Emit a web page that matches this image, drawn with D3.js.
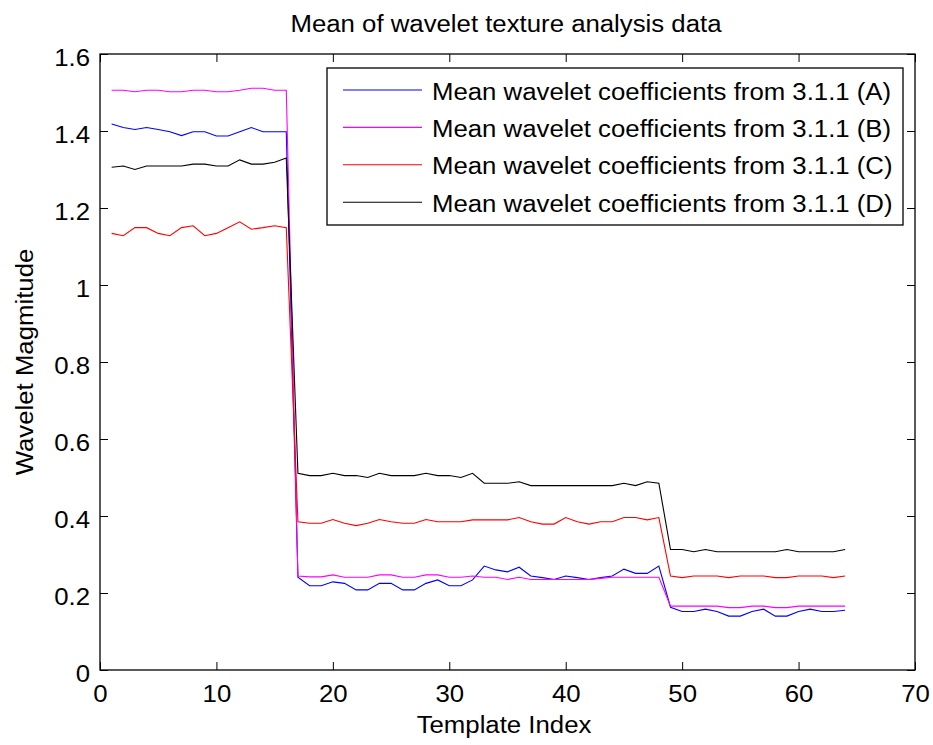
<!DOCTYPE html>
<html>
<head>
<meta charset="utf-8">
<script src="https://cdn.jsdelivr.net/npm/d3@7"></script>
<style>
  html, body { margin: 0; padding: 0; background: #fff; }
  text { font-family: "Liberation Sans", Arial, Helvetica, sans-serif; fill: #000; }
</style>
</head>
<body>
<svg id="chart" width="933" height="745"></svg>
<script>
const templateIndex = d3.range(1, 65);

const seriesA = [1.418,1.409,1.404,1.409,1.404,1.398,1.388,1.398,1.398,1.387,1.387,1.398,1.409,1.398,1.398,1.398,
  0.241,0.219,0.219,0.229,0.225,0.208,0.208,0.225,0.225,0.208,0.208,0.225,0.234,0.219,0.219,0.234,
  0.270,0.260,0.255,0.267,0.244,0.240,0.235,0.244,0.240,0.235,0.240,0.244,0.262,0.251,0.251,0.270,
  0.163,0.152,0.152,0.158,0.152,0.140,0.140,0.152,0.158,0.140,0.140,0.152,0.158,0.152,0.152,0.155];

const seriesB = [1.506,1.506,1.502,1.506,1.506,1.502,1.502,1.506,1.506,1.502,1.502,1.506,1.511,1.511,1.506,1.506,
  0.244,0.242,0.242,0.247,0.241,0.241,0.241,0.247,0.247,0.241,0.241,0.247,0.247,0.241,0.241,0.244,
  0.241,0.241,0.235,0.241,0.235,0.235,0.235,0.235,0.235,0.235,0.238,0.241,0.241,0.241,0.241,0.241,
  0.166,0.166,0.166,0.166,0.166,0.162,0.162,0.166,0.166,0.162,0.162,0.166,0.166,0.166,0.166,0.166];

const seriesC = [1.134,1.128,1.149,1.149,1.134,1.128,1.149,1.154,1.128,1.134,1.149,1.164,1.145,1.149,1.154,1.149,
  0.385,0.381,0.381,0.391,0.381,0.375,0.381,0.391,0.385,0.381,0.381,0.391,0.385,0.385,0.385,0.390,
  0.390,0.390,0.390,0.396,0.385,0.379,0.379,0.396,0.385,0.379,0.385,0.385,0.396,0.396,0.390,0.396,
  0.244,0.240,0.244,0.244,0.244,0.240,0.244,0.244,0.244,0.240,0.240,0.244,0.244,0.244,0.240,0.244];

const seriesD = [1.306,1.309,1.300,1.309,1.309,1.309,1.309,1.314,1.314,1.309,1.309,1.325,1.314,1.314,1.319,1.330,
  0.511,0.505,0.505,0.511,0.505,0.505,0.500,0.511,0.505,0.505,0.505,0.511,0.505,0.505,0.500,0.511,
  0.485,0.485,0.485,0.489,0.479,0.479,0.479,0.479,0.479,0.479,0.479,0.479,0.485,0.479,0.489,0.485,
  0.313,0.313,0.307,0.313,0.307,0.307,0.307,0.307,0.307,0.307,0.313,0.307,0.307,0.307,0.307,0.313];

const seriesNames = [
  "Mean wavelet coefficients from 3.1.1 (A)",
  "Mean wavelet coefficients from 3.1.1 (B)",
  "Mean wavelet coefficients from 3.1.1 (C)",
  "Mean wavelet coefficients from 3.1.1 (D)"
];
const seriesColors = ["#0000ff", "#ff00ff", "#ff0000", "#000000"];
const xTicks = [0, 10, 20, 30, 40, 50, 60, 70];
const yTicks = [0, 0.2, 0.4, 0.6, 0.8, 1, 1.2, 1.4, 1.6];
const titleText = "Mean of wavelet texture analysis data";
const xLabel = "Template Index";
const yLabel = "Wavelet Magmitude";

const allSeries = [seriesA, seriesB, seriesC, seriesD];

const svg = d3.select("#chart");
const L = 100, R = 915, T = 54, B = 670;
const FS = 23;

const x = d3.scaleLinear().domain([0, 70]).range([L, R]);
const y = d3.scaleLinear().domain([0, 1.6]).range([B, T]);

svg.append("rect").attr("width", 933).attr("height", 745).attr("fill", "#fff");

// data lines
const line = d3.line().x((d, i) => x(templateIndex[i])).y(d => y(d));
allSeries.forEach((s, k) => {
  svg.append("path").datum(s).attr("d", line)
    .attr("fill", "none").attr("stroke", seriesColors[k]).attr("stroke-width", 1.1);
});

const fmt = d => String(+d.toFixed(1));

function styleAxis(g) {
  g.select(".domain").remove();
  g.selectAll(".tick line").attr("stroke", "#000").attr("stroke-width", 1);
  g.selectAll(".tick text").attr("font-size", FS).attr("fill", "#000")
    .style("font-family", '"Liberation Sans", Arial, sans-serif');
}

svg.append("g").attr("transform", `translate(0,${B})`)
  .call(d3.axisBottom(x).tickValues(xTicks).tickFormat(d3.format("d")).tickSize(-8).tickPadding(16))
  .call(styleAxis);
svg.append("g").attr("transform", `translate(0,${T})`)
  .call(d3.axisTop(x).tickValues(xTicks).tickFormat("").tickSize(-8))
  .call(styleAxis);
const yl = svg.append("g").attr("transform", `translate(${L},0)`)
  .call(d3.axisLeft(y).tickValues(yTicks).tickFormat(fmt).tickSize(-8).tickPadding(10))
  .call(styleAxis);
yl.selectAll(".tick text").attr("dy", "0.48em");
svg.append("g").attr("transform", `translate(${R},0)`)
  .call(d3.axisRight(y).tickValues(yTicks).tickFormat("").tickSize(-8))
  .call(styleAxis);

// frame
svg.append("rect").attr("x", L).attr("y", T).attr("width", R - L).attr("height", B - T)
  .attr("fill", "none").attr("stroke", "#000").attr("stroke-width", 1.3);

// title & labels
svg.append("text").attr("x", 506).attr("y", 32).attr("text-anchor", "middle")
  .attr("font-size", FS).text(titleText);
svg.append("text").attr("x", 504).attr("y", 733).attr("text-anchor", "middle")
  .attr("font-size", FS).text(xLabel);
svg.append("text").attr("transform", `translate(33,${(T + B) / 2}) rotate(-90)`)
  .attr("text-anchor", "middle").attr("font-size", FS).text(yLabel);

// legend
const lg = svg.append("g");
lg.append("rect").attr("x", 327).attr("y", 68).attr("width", 576).attr("height", 157)
  .attr("fill", "#fff").attr("stroke", "#000").attr("stroke-width", 1.3);
seriesNames.forEach((name, k) => {
  const yy = 90 + k * 37.4;
  lg.append("line").attr("x1", 343).attr("x2", 422).attr("y1", yy).attr("y2", yy)
    .attr("stroke", seriesColors[k]).attr("stroke-width", 1.1);
  lg.append("text").attr("x", 432).attr("y", yy + 9.5).attr("font-size", FS).text(name);
});

// horizontal stretch to match the reference's wide glyphs
svg.selectAll("text").each(function () {
  if (!this.textContent) return;
  const w = this.getComputedTextLength();
  this.setAttribute("textLength", w * 1.12);
  this.setAttribute("lengthAdjust", "spacingAndGlyphs");
});
</script>
</body>
</html>
